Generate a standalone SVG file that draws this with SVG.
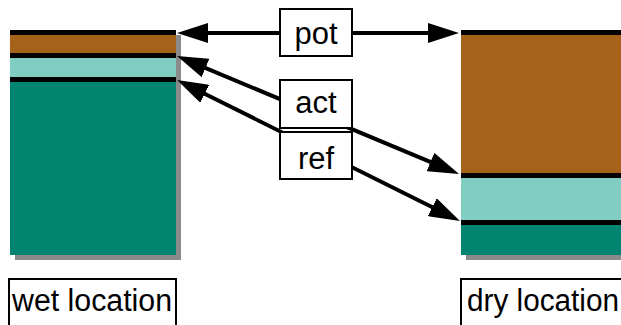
<svg xmlns="http://www.w3.org/2000/svg" width="621" height="325" viewBox="0 0 621 325">
  <style>
    .shadow { fill: #8a8a8a; }
    .sep { fill: #000000; }
    .brown { fill: #A6611A; }
    .light { fill: #80CDC1; }
    .dark { fill: #018571; }
    .box { fill: #ffffff; stroke: #000000; stroke-width: 2; }
    .lbl { font-family: "Liberation Sans", Arial, sans-serif; font-size: 31px; fill: #000000; }
    .conn { stroke: #000000; stroke-width: 4; fill: none; marker-end: url(#head); }
  </style>
  <defs>
    <marker id="head" viewBox="0 0 31 20" refX="3" refY="10" markerWidth="31" markerHeight="20" markerUnits="userSpaceOnUse" orient="auto-start-reverse">
      <path d="M0,0 L31,10 L0,20 Z" fill="#000000"/>
    </marker>
  </defs>

  <rect width="621" height="325" fill="#ffffff"/>

  <!-- wet location soil column -->
  <g id="wet-column">
    <rect class="shadow" x="15" y="35" width="166" height="225"/>
    <rect class="sep" x="10" y="30" width="166" height="5"/>
    <rect class="brown" x="10" y="35" width="166" height="18"/>
    <rect class="sep" x="10" y="53" width="166" height="5"/>
    <rect class="light" x="10" y="58" width="166" height="19"/>
    <rect class="sep" x="10" y="77" width="166" height="5"/>
    <rect class="dark" x="10" y="82" width="166" height="173"/>
  </g>

  <!-- dry location soil column -->
  <g id="dry-column">
    <rect class="shadow" x="466" y="35" width="160" height="225"/>
    <rect class="sep" x="461" y="30" width="160" height="5"/>
    <rect class="brown" x="461" y="35" width="160" height="138"/>
    <rect class="sep" x="461" y="173" width="160" height="5"/>
    <rect class="light" x="461" y="178" width="160" height="42"/>
    <rect class="sep" x="461" y="220" width="160" height="5"/>
    <rect class="dark" x="461" y="225" width="160" height="30"/>
  </g>

  <!-- connectors -->
  <g id="connectors">
    <line class="conn" x1="205" y1="33" x2="431" y2="33" marker-start="url(#head)"/>
    <line class="conn" x1="202.8" y1="66.8" x2="433.2" y2="163.2" marker-start="url(#head)"/>
    <line class="conn" x1="202.1" y1="92.5" x2="434.9" y2="208.5" marker-start="url(#head)"/>
  </g>

  <g id="pot">
    <rect class="box" x="280" y="9" width="72" height="47"/>
    <text class="lbl" x="316" y="44" text-anchor="middle">pot</text>
  </g>
  <g id="act">
    <rect class="box" x="280" y="80" width="72" height="48"/>
    <text class="lbl" x="316" y="113" text-anchor="middle">act</text>
  </g>
  <g id="ref">
    <rect class="box" x="280" y="132" width="72" height="47"/>
    <text class="lbl" x="316" y="169" text-anchor="middle">ref</text>
  </g>

  <g id="wet-location">
    <rect class="box" x="9" y="279" width="167" height="60"/>
    <text class="lbl" x="12" y="311" textLength="160" lengthAdjust="spacingAndGlyphs">wet location</text>
  </g>
  <g id="dry-location">
    <rect class="box" x="461" y="279" width="200" height="60"/>
    <text class="lbl" x="467" y="311" textLength="152" lengthAdjust="spacingAndGlyphs">dry location</text>
  </g>
</svg>
